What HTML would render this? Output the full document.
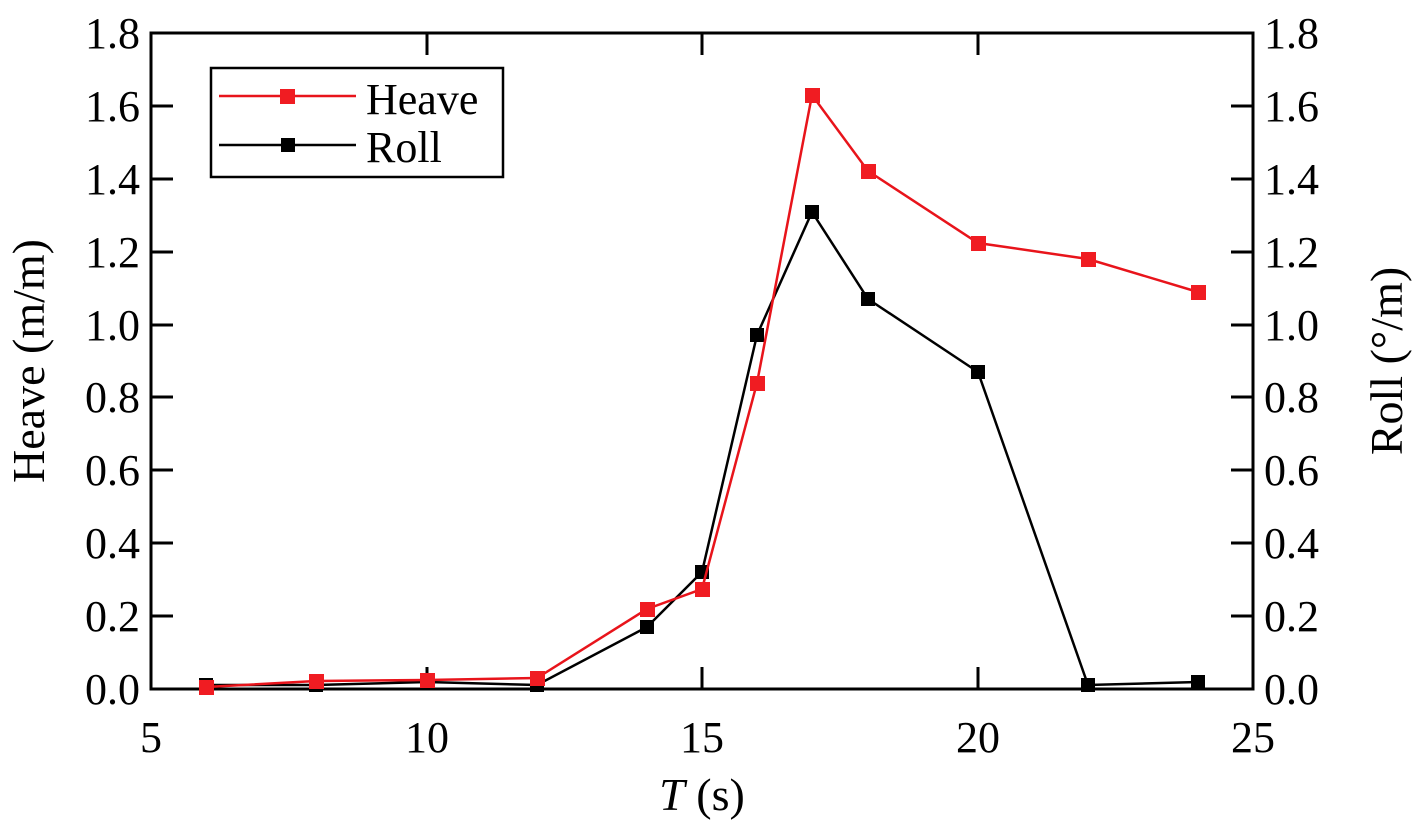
<!DOCTYPE html>
<html><head><style>body{margin:0;background:#fff}svg text{font-family:"Liberation Serif","Times New Roman",serif}</style></head><body>
<svg width="1418" height="824" xmlns="http://www.w3.org/2000/svg">
<rect width="1418" height="824" fill="#fff"/>
<g stroke="#000" stroke-width="3" fill="none">
<rect x="151" y="33" width="1102" height="656"/>
<path d="M151,106h22M151,179h22M151,252h22M151,325h22M151,397h22M151,470h22M151,543h22M151,616h22
M1253,106h-22M1253,179h-22M1253,252h-22M1253,325h-22M1253,397h-22M1253,470h-22M1253,543h-22M1253,616h-22
M427,689v-22M702,689v-22M978,689v-22M427,33v22M702,33v22M978,33v22"/>
</g>
<g font-size="44" text-anchor="end">
<text x="140" y="704">0.0</text><text x="140" y="631">0.2</text><text x="140" y="558">0.4</text><text x="140" y="485">0.6</text><text x="140" y="412">0.8</text><text x="140" y="340">1.0</text><text x="140" y="267">1.2</text><text x="140" y="194">1.4</text><text x="140" y="121">1.6</text><text x="140" y="48">1.8</text>
</g>
<g font-size="44" text-anchor="start">
<text x="1264" y="704">0.0</text><text x="1264" y="631">0.2</text><text x="1264" y="558">0.4</text><text x="1264" y="485">0.6</text><text x="1264" y="412">0.8</text><text x="1264" y="340">1.0</text><text x="1264" y="267">1.2</text><text x="1264" y="194">1.4</text><text x="1264" y="121">1.6</text><text x="1264" y="48">1.8</text>
</g>
<g font-size="44" text-anchor="middle">
<text x="151" y="752">5</text><text x="427" y="752">10</text><text x="702" y="752">15</text><text x="978" y="752">20</text><text x="1253" y="752">25</text>
</g>
<text x="702" y="810" font-size="46" text-anchor="middle"><tspan font-style="italic">T</tspan> (s)</text>
<text transform="translate(44,361) rotate(-90)" font-size="46" text-anchor="middle">Heave (m/m)</text>
<text transform="translate(1402,361) rotate(-90)" font-size="46" text-anchor="middle">Roll (°/m)</text>
<polyline fill="none" stroke="#000" stroke-width="2.5" points="206,685 316,685 427,682 537,685 647,627 702,572 757,335 812,212 868,299 978,372 1088,685 1198,682"/>
<g fill="#000">
<rect x="199" y="678" width="14" height="14"/><rect x="309" y="678" width="14" height="14"/><rect x="420" y="675" width="14" height="14"/><rect x="530" y="678" width="14" height="14"/><rect x="640" y="620" width="14" height="14"/><rect x="695" y="565" width="14" height="14"/><rect x="750" y="328" width="14" height="14"/><rect x="805" y="205" width="14" height="14"/><rect x="861" y="292" width="14" height="14"/><rect x="971" y="365" width="14" height="14"/><rect x="1081" y="678" width="14" height="14"/><rect x="1191" y="675" width="14" height="14"/>
</g>
<polyline fill="none" stroke="#e8141b" stroke-width="2.5" points="206,687 316,681 427,680 537,678 647,609 702,589 757,383 812,95 868,171 978,243 1088,259 1198,292"/>
<g fill="#f01c22">
<rect x="199" y="680" width="15" height="15"/><rect x="309" y="674" width="15" height="15"/><rect x="420" y="673" width="15" height="15"/><rect x="530" y="671" width="15" height="15"/><rect x="640" y="602" width="15" height="15"/><rect x="695" y="582" width="15" height="15"/><rect x="750" y="376" width="15" height="15"/><rect x="805" y="88" width="15" height="15"/><rect x="861" y="164" width="15" height="15"/><rect x="971" y="236" width="15" height="15"/><rect x="1081" y="252" width="15" height="15"/><rect x="1191" y="285" width="15" height="15"/>
</g>
<rect x="211" y="68" width="292" height="109" fill="#fff" stroke="#000" stroke-width="2.5"/>
<line x1="219" y1="96" x2="356" y2="96" stroke="#e8141b" stroke-width="2.5"/>
<rect x="280" y="89" width="15" height="15" fill="#f01c22"/>
<line x1="219" y1="145" x2="356" y2="145" stroke="#000" stroke-width="2.5"/>
<rect x="281" y="138" width="14" height="14" fill="#000"/>
<text x="366" y="114" font-size="44">Heave</text>
<text x="366" y="162" font-size="44">Roll</text>
</svg>
</body></html>
